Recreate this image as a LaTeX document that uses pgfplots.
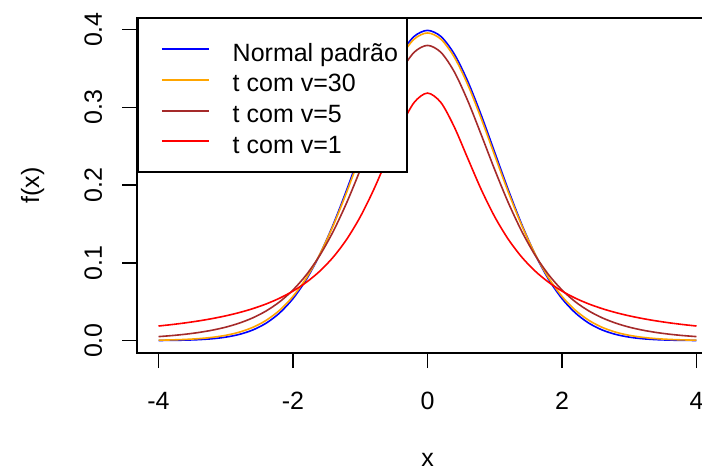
\documentclass[border=0pt]{standalone}
\usepackage{fontspec}
\setmainfont{Liberation Sans}
\usepackage{pgfplots}
\usepackage{pgfplotstable}
\pgfplotsset{compat=1.18}
\definecolor{rbrown}{RGB}{165,42,42}
\definecolor{rorange}{RGB}{255,165,0}

% one legend line per curve, colour given explicitly
\pgfplotsset{rleg/.style={legend image code/.code={
    \draw[draw=#1, line width=2pt] (0pt,0pt) (14pt,0pt) -- (61pt,0pt);}}}

% densities, step 0.2
\pgfplotstableread{
x     normal   t30      t5       t1
-4.0  0.00013  0.00052  0.00512  0.01872
-3.8  0.00029  0.00090  0.00646  0.02062
-3.6  0.00061  0.00151  0.00819  0.02280
-3.4  0.00123  0.00253  0.01045  0.02534
-3.2  0.00238  0.00417  0.01341  0.02832
-3.0  0.00443  0.00678  0.01729  0.03183
-2.8  0.00792  0.01082  0.02242  0.03601
-2.6  0.01358  0.01695  0.02918  0.04102
-2.4  0.02239  0.02600  0.03809  0.04709
-2.2  0.03547  0.03895  0.04980  0.05450
-2.0  0.05399  0.05686  0.06509  0.06366
-1.8  0.07895  0.08071  0.08481  0.07507
-1.6  0.11092  0.11119  0.10982  0.08941
-1.4  0.14973  0.14834  0.14074  0.10754
-1.2  0.19419  0.19129  0.17766  0.13046
-1.0  0.24197  0.23799  0.21968  0.15915
-0.8  0.28969  0.28524  0.26449  0.19409
-0.6  0.33322  0.32885  0.30814  0.23405
-0.4  0.36827  0.36432  0.34538  0.27441
-0.2  0.39104  0.38755  0.37064  0.30607
 0.0  0.39894  0.39563  0.37961  0.31831
 0.2  0.39104  0.38755  0.37064  0.30607
 0.4  0.36827  0.36432  0.34538  0.27441
 0.6  0.33322  0.32885  0.30814  0.23405
 0.8  0.28969  0.28524  0.26449  0.19409
 1.0  0.24197  0.23799  0.21968  0.15915
 1.2  0.19419  0.19129  0.17766  0.13046
 1.4  0.14973  0.14834  0.14074  0.10754
 1.6  0.11092  0.11119  0.10982  0.08941
 1.8  0.07895  0.08071  0.08481  0.07507
 2.0  0.05399  0.05686  0.06509  0.06366
 2.2  0.03547  0.03895  0.04980  0.05450
 2.4  0.02239  0.02600  0.03809  0.04709
 2.6  0.01358  0.01695  0.02918  0.04102
 2.8  0.00792  0.01082  0.02242  0.03601
 3.0  0.00443  0.00678  0.01729  0.03183
 3.2  0.00238  0.00417  0.01341  0.02832
 3.4  0.00123  0.00253  0.01045  0.02534
 3.6  0.00061  0.00151  0.00819  0.02280
 3.8  0.00029  0.00090  0.00646  0.02062
 4.0  0.00013  0.00052  0.00512  0.01872
}\dens

\begin{document}
\begin{tikzpicture}
\useasboundingbox (0,0) rectangle (702pt,474pt);
\begin{axis}[
    at={(137pt,121pt)}, anchor=south west,
    width=581pt, height=335pt, scale only axis,
    xmin=-4.32, xmax=4.32, ymin=-0.01596, ymax=0.41485,
    xtick={-4,-2,0,2,4}, xticklabels={-4,-2,0,2,4},
    ytick={0,0.1,0.2,0.3,0.4}, yticklabels={0.0,0.1,0.2,0.3,0.4},
    tick pos=left, tick align=outside, major tick length=15pt,
    axis line style={line width=1.5pt},
    every tick/.style={black, line width=1.5pt},
    tick label style={font=\fontsize{25}{30}\selectfont},
    xticklabel style={anchor=base, yshift=-41pt},
    yticklabel style={xshift=-20pt, rotate=90, anchor=base},
    label style={font=\fontsize{25}{30}\selectfont},
    xlabel={x}, ylabel={f(x)},
    xlabel style={at={(axis description cs:0.5,-0.3402)}, anchor=base},
    ylabel style={at={(axis description cs:-0.16867,0.5)}, anchor=base},
    legend style={at={(axis description cs:0,1)}, anchor=north west,
        draw=black, line width=1.5pt, fill=white,
        inner xsep=9pt, inner ysep=16.5pt, row sep=2.7pt, column sep=23pt,
        font=\fontsize{25}{30}\selectfont,
        nodes={inner sep=0pt, text height=26pt, text depth=2pt}},
    legend cell align=left,
]
\addplot[blue, line width=1.6pt, smooth, rleg=blue] table[x=x, y=normal] {\dens};
\addlegendentry{Normal padrão}
\addplot[rorange, line width=1.6pt, smooth, rleg=rorange] table[x=x, y=t30] {\dens};
\addlegendentry{t com v=30}
\addplot[rbrown, line width=1.6pt, smooth, rleg=rbrown] table[x=x, y=t5] {\dens};
\addlegendentry{t com v=5}
\addplot[red, line width=1.6pt, smooth, rleg=red] table[x=x, y=t1] {\dens};
\addlegendentry{t com v=1}
\end{axis}
\end{tikzpicture}
\end{document}
